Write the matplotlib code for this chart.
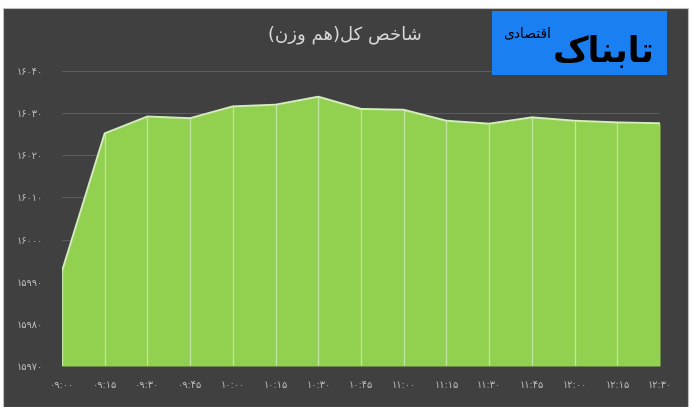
import matplotlib
matplotlib.use("Agg")
import matplotlib.pyplot as plt
from matplotlib.patches import Rectangle

# ---- data ----
times = ["09:00", "09:15", "09:30", "09:45", "10:00", "10:15", "10:30", "10:45",
         "11:00", "11:15", "11:30", "11:45", "12:00", "12:15", "12:30"]
values = [15992.5, 16025.2, 16029.2, 16028.8, 16031.6, 16032.0, 16033.9, 16031.0,
          16030.8, 16028.2, 16027.5, 16029.0, 16028.2, 16027.8, 16027.6]
y_ticks = [15970, 15980, 15990, 16000, 16010, 16020, 16030, 16040]

# Persian title "شاخص کل(هم وزن)" in visual order with presentation forms
title_text = "(\uFEE5\uFEAF\uFEED \uFEE2\uFEEB)\uFEDE\uFB90 \uFEBA\uFEA7\uFE8E\uFEB7"
logo_main = "\uFB8E\uFE8E\uFEE8\uFE91\uFE8E\uFE97"      # تابناک
logo_sub = "\uFBFC\uFEA9\uFE8E\uFEBC\uFE98\uFED7\uFE8D"  # اقتصادی

FA = str.maketrans("0123456789", "۰۱۲۳۴۵۶۷۸۹")
def fa(s):
    return str(s).translate(FA)

BG = "#404040"
FILL = "#92d050"
TXT = "#bfbfbf"

W, H = 690, 407
fig = plt.figure(figsize=(W / 100, H / 100), dpi=100)
fig.patch.set_facecolor("white")
fig.patches.append(Rectangle((3 / W, 0), 685 / W, 1 - 8 / H, transform=fig.transFigure,
                             facecolor=BG, edgecolor="#bfbfbf", linewidth=0.8, zorder=-10))

ax = fig.add_axes([62 / W, 1 - 366 / H, 598 / W, 295 / H])
ax.set_zorder(2)
ax.set_facecolor("none")
x = list(range(len(times)))
ymin, ymax = y_ticks[0], y_ticks[-1]
ax.fill_between(x, ymin, values, color=FILL, linewidth=0, zorder=2)
ax.plot(x, values, color="#d4eebc", linewidth=1.4, zorder=4)
ax.vlines(x, ymin, values, color="#c4e6a4", linewidth=0.9, zorder=3)
ax.set_xlim(0, len(times) - 1)
ax.set_ylim(ymin, ymax)
ax.set_yticks(y_ticks)
ax.set_yticklabels([fa(t) for t in y_ticks], family=["DejaVu Sans"], fontsize=7, color=TXT)
ax.set_xticks(x)
ax.set_xticklabels([fa(t) for t in times], family=["DejaVu Sans"], fontsize=7, color=TXT)
ax.tick_params(axis="both", length=0)
ax.tick_params(axis="y", pad=14)
ax.tick_params(axis="x", pad=10)
ax.grid(axis="y", color="#5c5c5c", linewidth=0.8, zorder=1)
ax.set_axisbelow(True)
for s in ax.spines.values():
    s.set_visible(False)

fig.text(345 / W, 1 - 35 / H, title_text, ha="center", va="center", fontsize=13,
         color="#d9d9d9", family=["DejaVu Sans"])

# logo box
fig.patches.append(Rectangle((492 / W, 1 - 75 / H), 175 / W, 64 / H, transform=fig.transFigure,
                             facecolor="#1a7ff0", edgecolor="none", zorder=5))
fig.text(604 / W, 1 - 52 / H, logo_main, ha="center", va="center", fontsize=25,
         fontweight="bold", color="black", family=["DejaVu Sans"], zorder=6)
fig.text(527 / W, 1 - 33 / H, logo_sub, ha="center", va="center", fontsize=10,
         color="black", family=["DejaVu Sans"], zorder=6)

fig.savefig("out.png", dpi=100, facecolor=fig.get_facecolor())
